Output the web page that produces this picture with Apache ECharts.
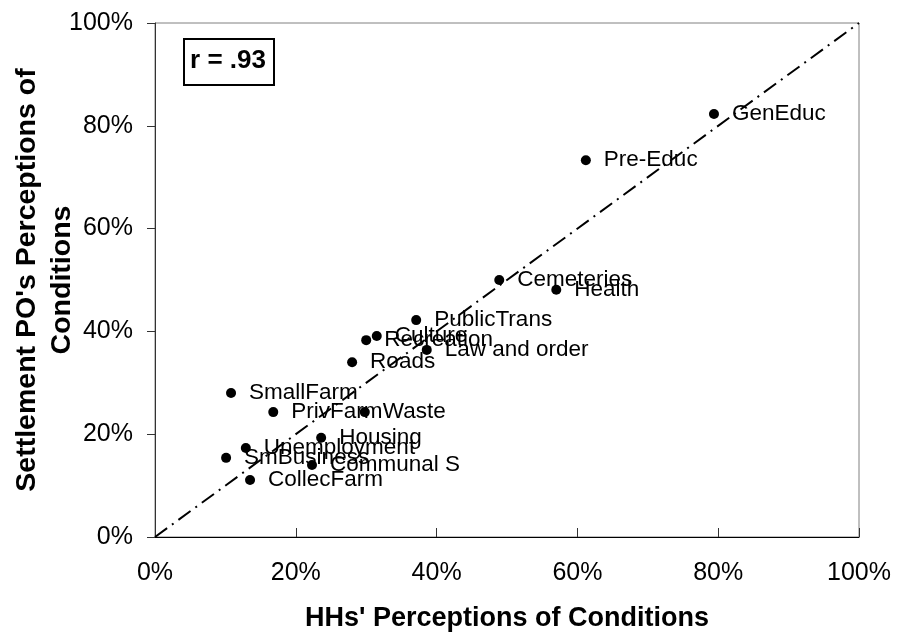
<!DOCTYPE html>
<html>
<head>
<meta charset="utf-8">
<script src="https://cdn.jsdelivr.net/npm/echarts@6/dist/echarts.min.js"></script>
<style>
html,body{margin:0;padding:0;background:#fff;}
#main{width:898px;height:635px;}
</style>
</head>
<body>
<div id="main"></div>
<script>
// ---- data ----
var categories = ["GenEduc","Pre-Educ","Cemeteries","Health","PublicTrans","Culture","Recreation","Law and order","Roads","SmallFarm","PrivFarm","Waste","Housing","Unemployment","SmBusiness","Communal S","CollecFarm"];
var hhValues =   [79.4, 61.2, 48.9, 57.0, 37.1, 31.5, 30.0, 38.6, 28.0, 10.8, 16.8, 29.8, 23.6, 12.9, 10.1, 22.3, 13.5];
var poValues =   [82.3, 73.3, 50.0, 48.1, 42.2, 39.1, 38.3, 36.4, 34.0, 28.0, 24.3, 24.3, 19.3, 17.3, 15.4, 14.0, 11.1];
var refLine = [[0,0],[100,100]];
var axisTicks = [0,20,40,60,80,100];
var rText = "r = .93";
var xTitle = "HHs' Perceptions of Conditions";
var yTitle = "Settlement PO's Perceptions of\nConditions";

// ---- styling (label nudges) ----
var labelOffsets = {"Pre-Educ":[-12,0],"Health":[-11,10],"Cemeteries":[1,2]};

var FONT = "'Liberation Sans', Arial, Helvetica, sans-serif";
var pts = categories.map(function(c,i){
  var d = {name:c, value:[hhValues[i], poValues[i]]};
  if (labelOffsets[c]) d.label = {offset: labelOffsets[c]};
  return d;
});

var chart = echarts.init(document.getElementById('main'), null, {renderer:'canvas'});
chart.setOption({
  animation:false,
  backgroundColor:'#fff',
  grid:{left:155, top:23, right:39, bottom:98, containLabel:false, outerBoundsMode:'none',
        show:true, borderColor:'#808080', borderWidth:1, backgroundColor:'transparent'},
  xAxis:{
    type:'value', min:axisTicks[0], max:axisTicks[axisTicks.length-1], interval:20,
    axisLine:{show:true, onZero:false, lineStyle:{color:'#000', width:1}},
    axisTick:{show:true, inside:true, length:9, lineStyle:{color:'#333'}},
    splitLine:{show:false},
    axisLabel:{formatter:'{value}%', fontFamily:FONT, fontSize:25, color:'#000', margin:24},
    name:xTitle, nameLocation:'middle', nameGap:68, nameMoveOverlap:false,
    nameTextStyle:{fontFamily:FONT, fontSize:27, fontWeight:'bold', color:'#000'}
  },
  yAxis:{
    type:'value', min:axisTicks[0], max:axisTicks[axisTicks.length-1], interval:20,
    axisLine:{show:true, onZero:false, lineStyle:{color:'#333', width:1}},
    axisTick:{show:true, inside:false, length:8, lineStyle:{color:'#333'}},
    splitLine:{show:false},
    axisLabel:{formatter:'{value}%', fontFamily:FONT, fontSize:25, color:'#000', margin:22},
    name:yTitle, nameLocation:'middle', nameGap:75, nameRotate:90, nameMoveOverlap:false,
    nameTextStyle:{fontFamily:FONT, fontSize:28.5, fontWeight:'bold', color:'#000', lineHeight:35, align:'center'}
  },
  series:[
    {
      type:'line', data:refLine, symbol:'none', silent:true, z:3,
      lineStyle:{color:'#000', width:2, type:[15,6,2,6]}
    },
    {
      type:'scatter', data:pts, symbol:'circle', symbolSize:10, z:2,
      itemStyle:{color:'#000', opacity:1},
      label:{show:true, position:'right', distance:13, formatter:'{b}',
        fontFamily:FONT, fontSize:22.5, color:'#000', opacity:1},
      labelLayout:{hideOverlap:false}
    }
  ],
  graphic:[
    {type:'rect', left:183, top:38, shape:{width:90, height:46}, style:{fill:'#fff', stroke:'#000', lineWidth:2}, z:10},
    {type:'text', x:228, y:61, style:{text:rText, font:'bold 26px '+FONT, fill:'#000', align:'center', verticalAlign:'middle'}, z:11}
  ]
});
</script>
</body>
</html>
